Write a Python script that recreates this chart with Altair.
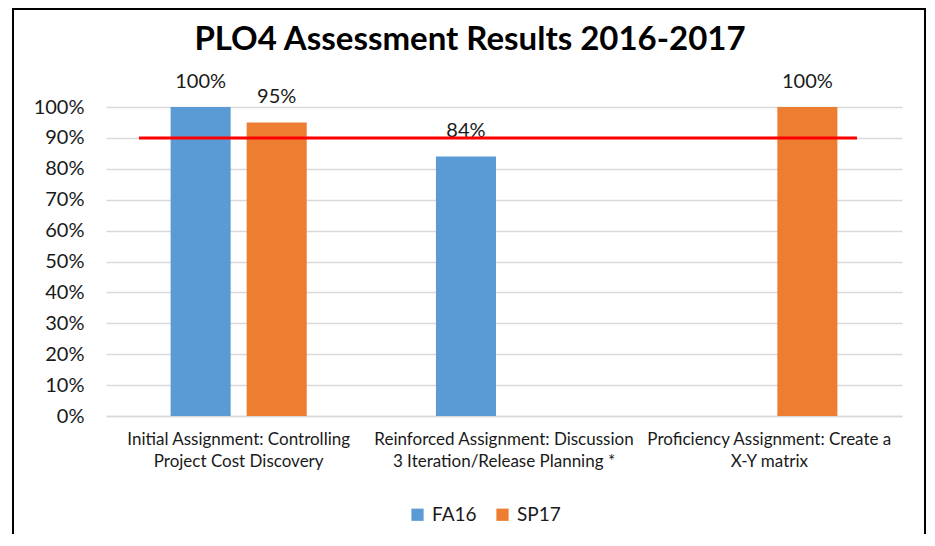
import altair as alt
import pandas as pd

title_text = "PLO4 Assessment Results 2016-2017"
categories = [
    "Initial Assignment: Controlling\nProject Cost Discovery",
    "Reinforced Assignment: Discussion\n3 Iteration/Release Planning *",
    "Proficiency Assignment: Create a\nX-Y matrix",
]
terms = ["FA16", "SP17"]
fa16 = [100, 84, None]
sp17 = [95, None, 100]
target = [90]
y_ticks = [0, 10, 20, 30, 40, 50, 60, 70, 80, 90, 100]
colors = ["#5B9BD5", "#ED7D31"]

rows = []
for cat, a, b in zip(categories, fa16, sp17):
    for term, v in zip(terms, [a, b]):
        if v is not None:
            rows.append({"cat": cat, "term": term, "value": v, "label": f"{v}%"})
df = pd.DataFrame(rows)

FONT = "Lato"
TXT = "#1a1a1a"

x_enc = alt.X(
    "cat:N",
    sort=categories,
    scale=alt.Scale(domain=categories, paddingInner=0.487, paddingOuter=0.2435),
    axis=alt.Axis(
        title=None,
        labelAngle=0,
        labelExpr="split(datum.label, '\\n')",
        labelFontSize=17,
        labelLineHeight=22,
        labelPadding=15,
        labelLimit=400,
        labelColor=TXT,
        labelFont=FONT,
        ticks=False,
        domainColor="#D9D9D9",
        domainWidth=1.5,
        grid=False,
        labelOverlap=False,
    ),
)
xoff_enc = alt.XOffset(
    "term:N",
    scale=alt.Scale(domain=terms, paddingInner=0.2105, paddingOuter=0),
)
y_axis = alt.Axis(
    title=None,
    values=y_ticks,
    tickCount=11,
    labelExpr="datum.value + '%'",
    labelFontSize=20,
    labelPadding=22,
    labelColor=TXT,
    labelFont=FONT,
    labelOverlap=False,
    ticks=False,
    domain=False,
    gridColor="#D9D9D9",
    gridWidth=1.5,
)
y_scale = alt.Scale(domain=[0, 100], nice=False)
y_enc = alt.Y("value:Q", scale=y_scale, axis=y_axis)

base = alt.Chart(df)

bars = base.mark_bar().encode(
    x=x_enc,
    xOffset=xoff_enc,
    y=y_enc,
    color=alt.Color(
        "term:N",
        scale=alt.Scale(domain=terms, range=colors),
        legend=alt.Legend(
            title=None,
            orient="none",
            direction="horizontal",
            legendX=302,
            legendY=398,
            symbolType="square",
            symbolSize=150,
            symbolStrokeWidth=0,
            labelFontSize=19,
            labelFont=FONT,
            labelColor=TXT,
            labelOffset=5,
            columnPadding=16,
            padding=0,
        ),
    ),
)

labels = base.mark_text(
    baseline="alphabetic", dy=-19, fontSize=20, font=FONT, color=TXT
).encode(
    x=x_enc,
    xOffset=xoff_enc,
    y=y_enc,
    text="label:N",
)

rule = alt.Chart(pd.DataFrame({"value": target})).mark_rule(
    color="#FF0000", strokeWidth=3
).encode(y=y_enc, x=alt.value(33), x2=alt.value(751))

border = alt.Chart(pd.DataFrame({"a": [0]})).mark_rect(
    filled=False, stroke="black", strokeWidth=2, clip=False
).encode(x=alt.value(-93), x2=alt.value(819), y=alt.value(-98), y2=alt.value(460))

title = alt.Chart(pd.DataFrame({"t": [title_text]})).mark_text(
    font=FONT, fontSize=33, fontWeight="bold", color="black",
    align="center", baseline="alphabetic",
).encode(x=alt.value(364), y=alt.value(-57), text="t:N")

chart = (
    alt.layer(bars, labels, rule, border, title)
    .properties(
        width=796,
        height=309,
        autosize=alt.AutoSizeParams(type="none"),
        padding={"left": 98, "top": 99, "right": 25, "bottom": 118},
    )
    .configure_view(stroke=None)
)

chart.save("out.html", embed_options={"renderer": "svg", "actions": False})
